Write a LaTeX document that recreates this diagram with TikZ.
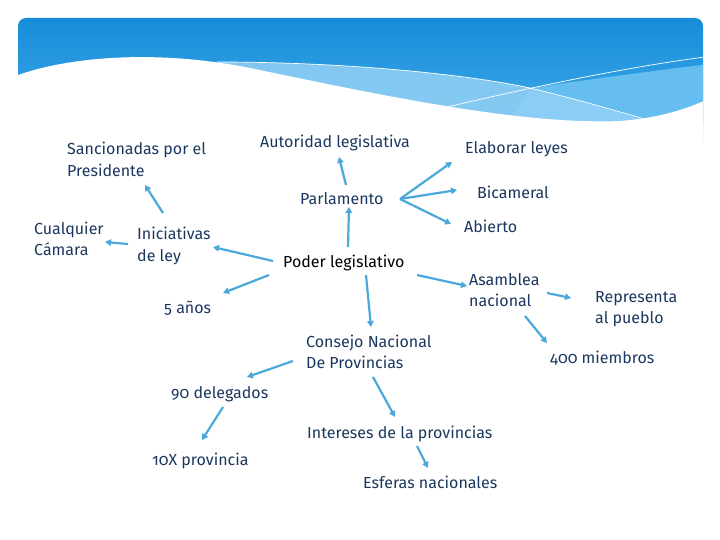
\documentclass[tikz,border=0pt]{standalone}
\usepackage{fontspec}
\setmainfont[Numbers=OldStyle]{Fira Sans}
\usetikzlibrary{arrows.meta,calc}
\definecolor{txt}{HTML}{1B375F}
\definecolor{arrc}{HTML}{4AA8DC}
\definecolor{btop}{HTML}{168CD8}
\definecolor{bbot}{HTML}{3FAAEA}
\definecolor{bandA}{HTML}{66BDF0}
\definecolor{bandB}{HTML}{92D0F5}
\tikzset{
  lbl/.style={anchor=base west, inner sep=0pt, text=txt, font=\fontsize{16}{21.5}\selectfont, align=left},
  arr/.style={draw=arrc, line width=2.2pt, -{Triangle[length=6pt,width=6.5pt]}}
}
\begin{document}
\begin{tikzpicture}[x=1pt,y=-1pt]
\useasboundingbox (0,0) rectangle (720,540);
\fill[white] (0,0) rectangle (720,540);
% banner
\begin{scope}
\clip[rounded corners=8pt] (18,18) rectangle (703,160);
\shade[top color=btop, bottom color=bbot] (18,18) rectangle (703,125);
\fill[bandA] (530,88) .. controls (600,78) and (660,70) .. (710,64) -- (710,140) -- (500,140) -- cycle;
\fill[bandB, opacity=0.85] (217,62) .. controls (350,62) and (470,75) .. (530,88) .. controls (580,100) and (620,112) .. (650,122) -- (650,140) -- (217,140) -- cycle;
\fill[white] (10,78) .. controls (60,58) and (150,48) .. (250,68) .. controls (380,95) and (520,125) .. (620,121) .. controls (660,118) and (690,108) .. (710,98) -- (710,165) -- (10,165) -- cycle;
\draw[white, line width=0.7pt] (217,62) .. controls (350,62) and (470,75) .. (530,88) .. controls (580,100) and (620,112) .. (648,120);
\draw[white, line width=0.7pt] (447,107) .. controls (520,90) and (620,68) .. (705,57);
\end{scope}
% nodes (multi-line nodes are placed at the baseline of their last line)
\node[lbl] (sanc) at (67,176.5) {Sancionadas por el\\Presidente};
\node[lbl] (auto) at (260,148) {Autoridad legislativa};
\node[lbl] (elab) at (465,154) {Elaborar leyes};
\node[lbl] (parl) at (300,205) {Parlamento};
\node[lbl] (bica) at (477,199) {Bicameral};
\node[lbl] (abie) at (464,233) {Abierto};
\node[lbl] (cual) at (34,255.5) {Cualquier\\Cámara};
\node[lbl] (inic) at (137,261.5) {Iniciativas\\de ley};
\node[lbl, text=black] (poder) at (283,267) {Poder legislativo};
\node[lbl] (asam) at (469,306.5) {Asamblea\\nacional};
\node[lbl] (repr) at (595,323.5) {Representa\\al pueblo};
\node[lbl] (cinco) at (164,313) {5 años};
\node[lbl] (cons) at (306,368.5) {Consejo Nacional\\De Provincias};
\node[lbl] (mil) at (550,363) {400 miembros};
\node[lbl] (nov) at (171,398) {90 delegados};
\node[lbl] (inter) at (307,438) {Intereses de la provincias};
\node[lbl] (diez) at (152,465) {10X provincia};
\node[lbl] (esf) at (363,488) {Esferas nacionales};
% connectors
\draw[arr] ($(inic.base west)+(26,-48.5)$) -- ($(sanc.base west)+(78,8.5)$);
\draw[arr] ($(inic.base west)+(-9,-17.5)$) -- ($(cual.base west)+(71,-13.5)$);
\draw[arr] ($(poder.base west)+(-10,-6)$) -- ($(inic.base west)+(76,-14.5)$);
\draw[arr] ($(poder.base west)+(-14,8)$) -- ($(cinco.base west)+(59,-20)$);
\draw[arr] ($(poder.base west)+(65,-20)$) -- ($(parl.base west)+(49,2)$);
\draw[arr] ($(parl.base west)+(46,-20)$) -- ($(auto.base west)+(79,9)$);
\draw[arr] ($(parl.base west)+(100,-6)$) -- ($(elab.base west)+(-13,8)$);
\draw[arr] ($(parl.base west)+(100,-6)$) -- ($(bica.base west)+(-20,-9)$);
\draw[arr] ($(parl.base west)+(100,-6)$) -- ($(abie.base west)+(-13,-9)$);
\draw[arr] ($(poder.base west)+(134,8)$) -- ($(asam.base west)+(-2,-20.5)$);
\draw[arr] ($(asam.base west)+(78,-13.5)$) -- ($(repr.base west)+(-24,-25.5)$);
\draw[arr] ($(asam.base west)+(56,9.5)$) -- ($(mil.base west)+(-3,-20)$);
\draw[arr] ($(poder.base west)+(83,8)$) -- ($(cons.base west)+(65,-41.5)$);
\draw[arr] ($(cons.base west)+(-13,-7.5)$) -- ($(nov.base west)+(76,-21)$);
\draw[arr] ($(nov.base west)+(52,9)$) -- ($(diez.base west)+(50,-25)$);
\draw[arr] ($(cons.base west)+(67,8.5)$) -- ($(inter.base west)+(88,-21)$);
\draw[arr] ($(inter.base west)+(110,8)$) -- ($(esf.base west)+(65,-20)$);
\end{tikzpicture}
\end{document}
